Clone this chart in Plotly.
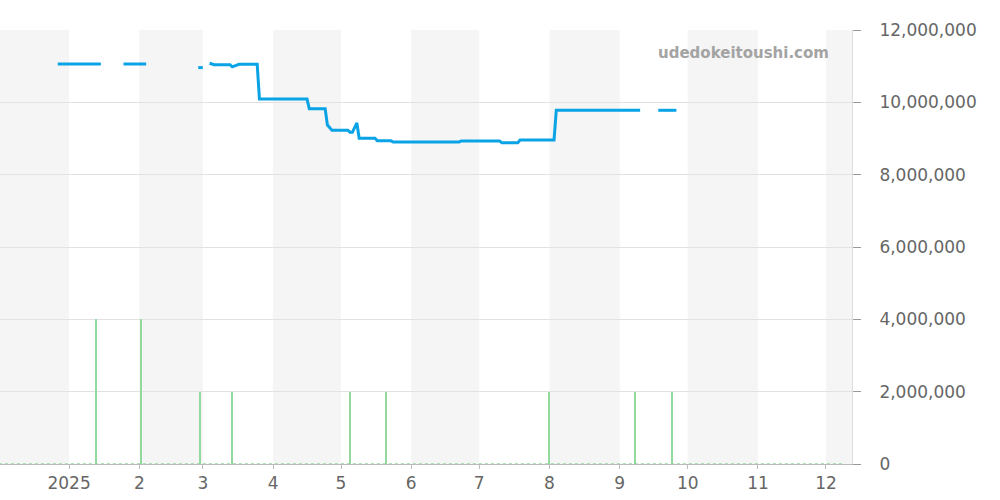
import plotly.graph_objects as go
import pandas as pd

# price history (None = no listing -> gap in the line)
price_dates = [
    "2024-12-27", "2025-01-15", None,
    "2025-01-25", "2025-02-04", None,
    "2025-02-27", "2025-03-01", None,
    "2025-03-04", "2025-03-06", "2025-03-13", "2025-03-14", "2025-03-17",
    "2025-03-25", "2025-03-26", "2025-04-16", "2025-04-17", "2025-04-24",
    "2025-04-25", "2025-04-27", "2025-05-04", "2025-05-05", "2025-05-06",
    "2025-05-08", "2025-05-09", "2025-05-16", "2025-05-17", "2025-05-23",
    "2025-05-24", "2025-06-22", "2025-06-23", "2025-07-10", "2025-07-11",
    "2025-07-18", "2025-07-19", "2025-08-03", "2025-08-04", "2025-09-10", None,
    "2025-09-18", "2025-09-26",
]
price_values = [
    11060000, 11060000, None,
    11060000, 11060000, None,
    10960000, 10960000, None,
    11080000, 11040000, 11040000, 10980000, 11050000,
    11050000, 10090000, 10090000, 9820000, 9820000,
    9370000, 9230000, 9230000, 9170000, 9170000,
    9430000, 9010000, 9010000, 8940000, 8940000,
    8900000, 8900000, 8930000, 8930000, 8880000,
    8880000, 8960000, 8960000, 9780000, 9780000, None,
    9780000, 9780000,
]

# listing volume markers
volume_dates = ["2025-01-13", "2025-02-02", "2025-02-28", "2025-03-14", "2025-05-05",
                "2025-05-21", "2025-08-01", "2025-09-08", "2025-09-24"]
volume_values = [4000000, 4000000, 2000000, 2000000, 2000000,
                 2000000, 2000000, 2000000, 2000000]

baseline_dates = ["2024-12-01", "2025-12-09"]
baseline_values = [0, 0]

month_starts = ["2024-12-01", "2025-01-01", "2025-02-01", "2025-03-01", "2025-04-01",
                "2025-05-01", "2025-06-01", "2025-07-01", "2025-08-01", "2025-09-01",
                "2025-10-01", "2025-11-01", "2025-12-01", "2026-01-01"]
tick_labels = ["2025", "2", "3", "4", "5", "6", "7", "8", "9", "10", "11", "12"]

fig = go.Figure()

fig.add_trace(go.Bar(
    x=volume_dates,
    y=volume_values,
    width=0.6 * 86400000,
    marker=dict(color="#93d99e", line=dict(width=0)),
    hoverinfo="skip"
))

fig.add_trace(go.Scatter(
    x=baseline_dates,
    y=baseline_values,
    mode="lines",
    line=dict(color="#93d99e", width=1.5, dash="dot"),
    hoverinfo="skip"
))

fig.add_trace(go.Scatter(
    x=price_dates,
    y=price_values,
    mode="lines",
    connectgaps=False,
    line=dict(color="#0aa3e6", width=3),
    hovertemplate="%{x}: %{y:,}<extra></extra>"
))

# alternating month shading
for i in range(0, len(month_starts) - 1, 2):
    fig.add_shape(type="rect", xref="x", yref="paper",
                  x0=month_starts[i], x1=month_starts[i + 1], y0=0, y1=1,
                  fillcolor="#f5f5f5", line=dict(width=0), layer="below")

fig.add_annotation(
    x=0.975, y=0.948, xref="paper", yref="paper",
    xanchor="right", yanchor="middle",
    text="<b>udedokeitoushi.com</b>",
    showarrow=False,
    font=dict(family="DejaVu Sans", size=15, color="#a3a3a3")
)

fig.update_layout(
    width=1000, height=500,
    showlegend=False,
    plot_bgcolor="#ffffff",
    paper_bgcolor="#ffffff",
    margin=dict(t=30, l=0, r=148, b=36, autoexpand=False),
    font=dict(family="DejaVu Sans", size=17, color="#666666"),
    bargap=0,
    xaxis=dict(
        type="date",
        range=["2024-12-01 12:00", "2025-12-12 12:00"],
        tickvals=month_starts[1:13],
        ticktext=tick_labels,
        showgrid=False,
        zeroline=False,
        showline=True,
        linecolor="#bbbbbb",
        ticks="outside",
        ticklen=4,
        tickcolor="#bbbbbb",
    ),
    yaxis=dict(
        side="right",
        range=[0, 12000000],
        dtick=2000000,
        tickformat=",d",
        showgrid=True,
        gridcolor="#e2e2e2",
        zeroline=False,
        showline=True,
        linecolor="#dddddd",
        ticks="outside",
        ticklen=8,
        tickcolor="#999999",
        ticklabelstandoff=15,
    ),
)

# drop the browser's default page margin so the chart sits at 0,0
fig.write_html("out.html", config={"displayModeBar": False},
               post_script="document.body.style.margin='0';")
